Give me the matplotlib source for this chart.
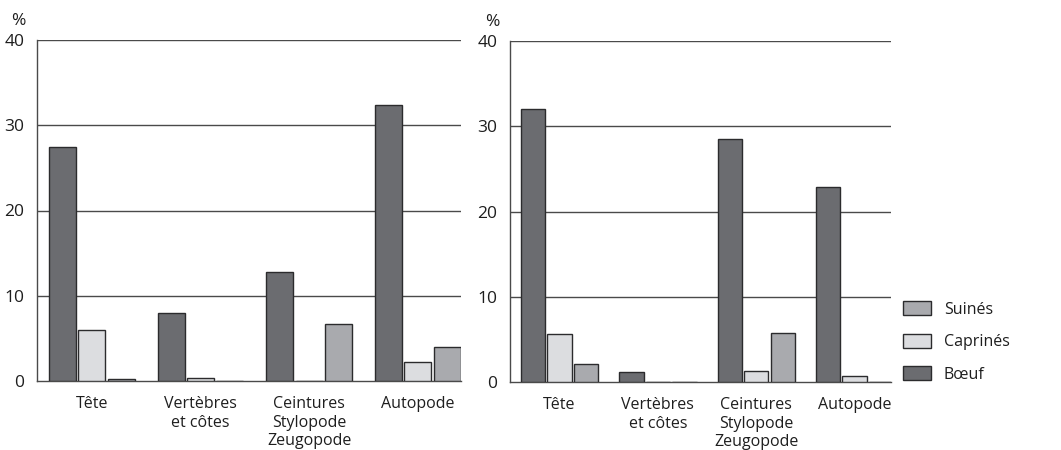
import matplotlib
matplotlib.use("Agg")
import matplotlib.pyplot as plt
import numpy as np
from matplotlib.patches import Patch

plt.rcParams['font.family'] = ['Open Sans', 'DejaVu Sans']

categories = ["Tête", "Vertèbres\net côtes", "Ceintures\nStylopode\nZeugopode", "Autopode"]
series = ["Bœuf", "Caprinés", "Suinés"]

left_boeuf = [27.5, 8.0, 12.75, 32.4]
left_caprines = [6.0, 0.3, 0.0, 2.2]
left_suines = [0.25, 0.05, 6.65, 4.0]

right_boeuf = [32.0, 1.2, 28.5, 22.9]
right_caprines = [5.6, 0.05, 1.25, 0.7]
right_suines = [2.1, 0.05, 5.7, 0.05]

yticks = [0, 10, 20, 30, 40]

colors = {"Bœuf": "#6b6c70", "Caprinés": "#dcdde0", "Suinés": "#a9aaae"}
edge = "#2b2b2d"
text_color = "#1e1e1e"
grid_color = "#4a4a4a"

W, H = 1061, 450
fig = plt.figure(figsize=(W / 100, H / 100), dpi=100)


def add_axes_px(x0, y0, x1, y1):
    return fig.add_axes([x0 / W, 1 - y1 / H, (x1 - x0) / W, (y1 - y0) / H])


def draw_panel(ax, boeuf, caprines, suines, xlim):
    x = np.arange(len(categories))
    width = 0.248
    step = 0.27
    for off, name, vals in [(-step, "Bœuf", boeuf), (0, "Caprinés", caprines), (step, "Suinés", suines)]:
        ax.bar(x + off, vals, width=width, color=colors[name], edgecolor=edge,
               linewidth=1.0, zorder=3)
    ax.set_ylim(0, 40)
    ax.set_xlim(*xlim)
    ax.set_yticks(yticks)
    ax.set_yticklabels([str(v) for v in yticks], fontsize=12.5, color=text_color)
    ax.set_xticks(x)
    ax.set_xticklabels(categories, fontsize=11.5, color=text_color, linespacing=1.2)
    ax.tick_params(axis="both", length=0)
    ax.tick_params(axis="x", pad=11)
    ax.tick_params(axis="y", pad=9)
    for v in yticks[1:]:
        ax.axhline(v, color=grid_color, linewidth=1.0, zorder=1)
    for s in ["top", "right"]:
        ax.spines[s].set_visible(False)
    ax.spines["left"].set_color(grid_color)
    ax.spines["bottom"].set_color(grid_color)
    ax.spines["left"].set_linewidth(1.0)
    ax.spines["bottom"].set_linewidth(1.0)
    ax.annotate("%", xy=(0, 1), xycoords="axes fraction", xytext=(-11, 11),
                textcoords="offset pixels", fontsize=12.5, color=text_color,
                ha="right", va="bottom")


ax1 = add_axes_px(37, 40, 461, 381)
draw_panel(ax1, left_boeuf, left_caprines, left_suines, (-0.504, 3.397))

ax2 = add_axes_px(510, 41, 891, 382)
draw_panel(ax2, right_boeuf, right_caprines, right_suines, (-0.503, 3.369))

handles = [Patch(facecolor=colors[n], edgecolor=edge, linewidth=1.0) for n in reversed(series)]
leg = fig.legend(handles, list(reversed(series)), loc="upper left",
                 bbox_to_anchor=(903 / W, 1 - 301 / H), frameon=False,
                 fontsize=11.5, handlelength=1.75, handleheight=1.0,
                 labelspacing=1.0, handletextpad=0.8, borderaxespad=0,
                 borderpad=0)
for t in leg.get_texts():
    t.set_color(text_color)

fig.savefig("out.png", dpi=100)
